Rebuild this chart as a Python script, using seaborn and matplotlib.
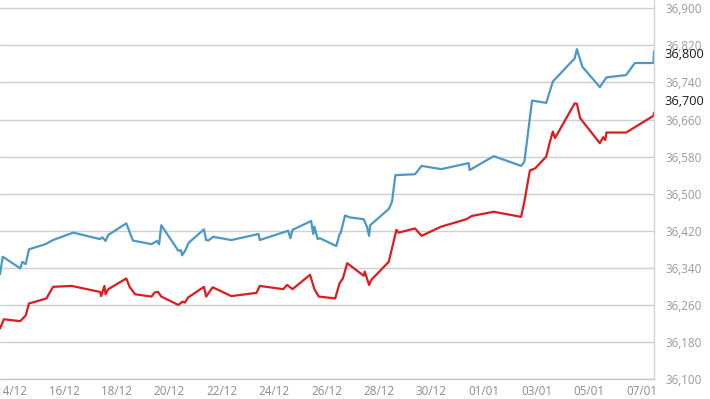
import pandas as pd
import numpy as np
from matplotlib import pyplot as plt
import matplotlib.dates as mdates
from matplotlib.ticker import FuncFormatter
import seaborn as sns

# blue series (upper line)
blue_times = ["2023-12-13 13:30", "2023-12-13 16:00", "2023-12-14 08:00", "2023-12-14 10:00",
              "2023-12-14 13:00", "2023-12-14 16:00", "2023-12-15 07:00", "2023-12-15 14:00",
              "2023-12-16 08:30", "2023-12-17 09:00", "2023-12-17 11:00", "2023-12-17 14:00",
              "2023-12-17 16:30", "2023-12-18 09:00", "2023-12-18 15:00", "2023-12-19 08:00",
              "2023-12-19 13:00", "2023-12-19 15:00", "2023-12-19 17:00", "2023-12-20 08:30",
              "2023-12-20 11:00", "2023-12-20 12:00", "2023-12-20 15:00", "2023-12-20 18:00",
              "2023-12-21 08:00", "2023-12-21 10:00", "2023-12-21 12:00", "2023-12-21 16:30",
              "2023-12-22 09:00", "2023-12-23 10:00", "2023-12-23 11:00", "2023-12-24 13:00",
              "2023-12-24 15:00", "2023-12-24 17:00", "2023-12-25 10:00", "2023-12-25 12:00",
              "2023-12-25 13:00", "2023-12-25 16:00", "2023-12-25 18:00", "2023-12-26 09:00",
              "2023-12-26 12:00", "2023-12-26 13:00", "2023-12-26 17:00", "2023-12-26 21:00",
              "2023-12-27 10:00", "2023-12-27 13:00", "2023-12-27 15:00", "2023-12-27 16:00",
              "2023-12-28 09:00", "2023-12-28 12:00", "2023-12-28 15:00", "2023-12-29 09:00",
              "2023-12-29 15:00", "2023-12-30 09:00", "2023-12-31 10:00", "2023-12-31 11:00",
              "2024-01-01 09:00", "2024-01-02 10:00", "2024-01-02 13:00", "2024-01-02 20:00",
              "2024-01-03 09:00", "2024-01-03 15:00", "2024-01-04 11:00", "2024-01-04 13:00",
              "2024-01-04 18:00", "2024-01-05 10:00", "2024-01-05 16:00", "2024-01-06 10:00",
              "2024-01-06 18:00", "2024-01-07 11:00", "2024-01-07 11:30"]
blue_vals = [36326, 36364, 36339, 36353, 36348, 36380, 36391, 36400,
             36416, 36402, 36406, 36398, 36411, 36436, 36399, 36391,
             36398, 36391, 36432, 36377, 36378, 36367, 36378, 36394,
             36423, 36400, 36399, 36407, 36400, 36413, 36400, 36420,
             36404, 36422, 36441, 36413, 36429, 36402, 36404, 36387,
             36413, 36415, 36453, 36449, 36445, 36429, 36409, 36432,
             36467, 36483, 36540, 36542, 36560, 36553, 36566, 36551,
             36581, 36560, 36569, 36701, 36696, 36742, 36792, 36812,
             36774, 36730, 36751, 36756, 36782, 36782, 36808]

# red series (lower line)
red_times = ["2023-12-13 13:30", "2023-12-13 17:00", "2023-12-14 08:00", "2023-12-14 13:00",
             "2023-12-14 16:00", "2023-12-15 08:00", "2023-12-15 14:00", "2023-12-16 07:00",
             "2023-12-17 09:00", "2023-12-17 10:00", "2023-12-17 13:00", "2023-12-17 14:00",
             "2023-12-17 16:30", "2023-12-18 09:00", "2023-12-18 12:00", "2023-12-18 17:00",
             "2023-12-19 08:00", "2023-12-19 11:00", "2023-12-19 14:00", "2023-12-19 17:00",
             "2023-12-20 08:30", "2023-12-20 12:30", "2023-12-20 14:30", "2023-12-20 17:30",
             "2023-12-21 08:00", "2023-12-21 10:00", "2023-12-21 16:00", "2023-12-22 09:00",
             "2023-12-23 08:00", "2023-12-23 11:00", "2023-12-24 08:30", "2023-12-24 12:00",
             "2023-12-24 17:00", "2023-12-25 09:00", "2023-12-25 13:00", "2023-12-25 17:00",
             "2023-12-26 08:00", "2023-12-26 12:00", "2023-12-26 15:00", "2023-12-26 19:00",
             "2023-12-27 10:00", "2023-12-27 11:00", "2023-12-27 15:00", "2023-12-27 17:00",
             "2023-12-28 09:00", "2023-12-28 16:00", "2023-12-28 18:00", "2023-12-29 09:00",
             "2023-12-29 15:00", "2023-12-30 09:00", "2023-12-31 08:00", "2023-12-31 13:00",
             "2024-01-01 09:00", "2024-01-02 10:00", "2024-01-02 13:00", "2024-01-02 18:00",
             "2024-01-02 23:00", "2024-01-03 09:00", "2024-01-03 12:00", "2024-01-03 15:00",
             "2024-01-03 17:00", "2024-01-04 11:00", "2024-01-04 13:00", "2024-01-04 16:00",
             "2024-01-05 10:00", "2024-01-05 13:00", "2024-01-05 15:00", "2024-01-05 16:00",
             "2024-01-06 10:00", "2024-01-07 11:00", "2024-01-07 11:30"]
red_vals = [36209, 36229, 36225, 36237, 36263, 36274, 36299, 36301,
            36288, 36279, 36301, 36283, 36294, 36317, 36299, 36283,
            36278, 36287, 36288, 36278, 36260, 36267, 36265, 36276,
            36299, 36278, 36298, 36279, 36286, 36301, 36294, 36303,
            36294, 36325, 36294, 36278, 36274, 36307, 36317, 36350,
            36323, 36332, 36303, 36314, 36353, 36422, 36416, 36425,
            36409, 36429, 36445, 36452, 36461, 36450, 36483, 36550,
            36555, 36580, 36609, 36634, 36620, 36695, 36694, 36663,
            36609, 36622, 36616, 36632, 36632, 36668, 36675]

# last value labels shown in black on the right
last_labels = ["36,800", "36,700"]
last_label_y = [36800, 36700]

y_ticks = list(range(36100, 36901, 80))
x_ticks = pd.date_range("2023-12-14", "2024-01-07", freq="2D")

blue = pd.DataFrame({"time": pd.to_datetime(blue_times), "rate": blue_vals})
red = pd.DataFrame({"time": pd.to_datetime(red_times), "rate": red_vals})

sns.set_style("white")
plt.rcParams['font.family'] = ['Open Sans', 'DejaVu Sans']

fig = plt.figure(figsize=(7.10, 3.99), dpi=100)
ax = fig.add_axes([0.0, 0.05, 0.9211, 0.95])

sns.lineplot(data=blue, x="time", y="rate", ax=ax, color="#4b98c6", linewidth=1.6,
             estimator=None, sort=False)
sns.lineplot(data=red, x="time", y="rate", ax=ax, color="#dc1c1f", linewidth=1.6,
             estimator=None, sort=False)

ax.set_xlim(pd.Timestamp("2023-12-13 13:30"), pd.Timestamp("2024-01-07 11:30"))
ax.set_ylim(36100, 36918)

ax.yaxis.tick_right()
ax.set_yticks(y_ticks)
ax.yaxis.set_major_formatter(FuncFormatter(lambda v, p: f"{int(v):,}"))
ax.tick_params(axis="y", length=0, pad=8.5, labelsize=8.4, labelcolor="#9a9a9a")

ax.set_xticks(x_ticks)
ax.xaxis.set_major_formatter(mdates.DateFormatter("%d/%m"))
ax.tick_params(axis="x", length=3, width=0.8, color="#b8c8d8", pad=1.5,
               labelsize=8.4, labelcolor="#8c8c8c")

ax.set_xlabel("")
ax.set_ylabel("")
ax.grid(axis="y", color="#cfcfcf", linewidth=1)
ax.grid(axis="x", visible=False)

for side in ["left", "top"]:
    ax.spines[side].set_visible(False)
ax.spines["right"].set_color("#d4d4d4")
ax.spines["right"].set_linewidth(1)
ax.spines["bottom"].set_color("#bccbda")
ax.spines["bottom"].set_linewidth(1)

for txt, yv in zip(last_labels, last_label_y):
    ax.annotate(txt, xy=(1.0, yv), xycoords=("axes fraction", "data"),
                xytext=(7.5, 0), textcoords="offset points",
                ha="left", va="center", fontsize=9.2, color="#1a1a1a")

fig.savefig("out.png", dpi=100)
